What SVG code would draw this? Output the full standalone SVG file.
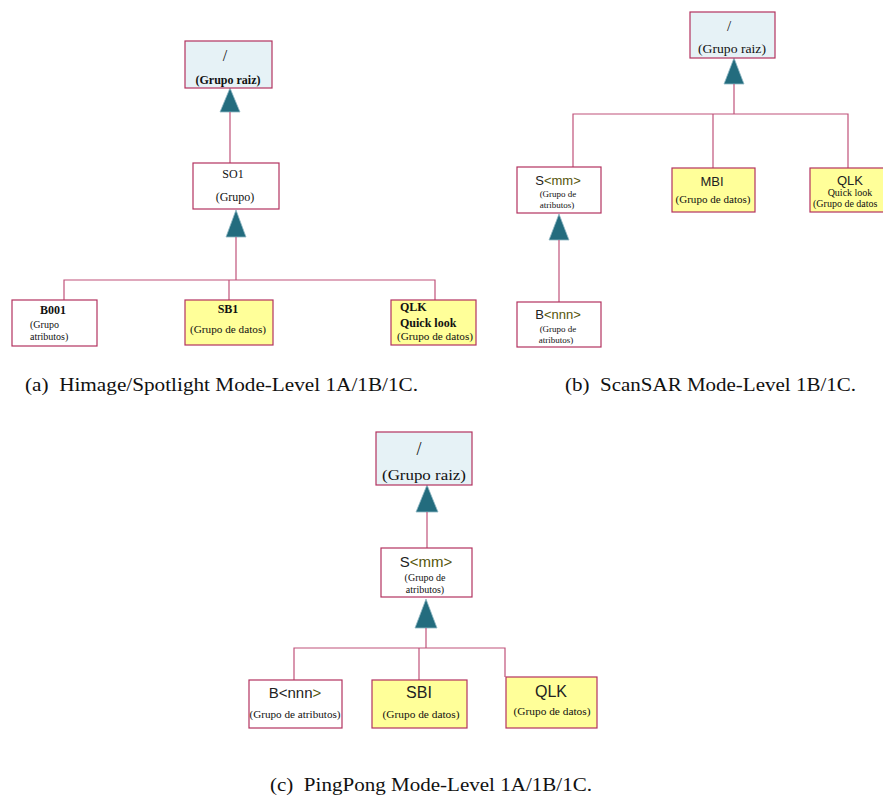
<svg xmlns="http://www.w3.org/2000/svg" width="883" height="796" viewBox="0 0 883 796">
<style>
.bg{fill:#ffffff}
.root{fill:#e6f2f6;stroke:#b3325f;stroke-width:1.2}
.grp{fill:#ffffff;stroke:#b3325f;stroke-width:1.2}
.dat{fill:#ffff99;stroke:#b3325f;stroke-width:1.2}
.ln{fill:none;stroke:#c0527a;stroke-width:1.2}
.tri{fill:#236c7e;stroke:#8fb8c4;stroke-width:0.8}
.s{font-family:"Liberation Serif","Times New Roman",serif;fill:#111}
.ss{font-family:"Liberation Sans",Arial,sans-serif;fill:#222}
.b{font-weight:bold}
.ol{fill:#55550a}
.cap{font-family:"Liberation Serif","Times New Roman",serif;font-size:18px;fill:#111}
</style>
<rect class="bg" x="0" y="0" width="883" height="796"/>

<g id="connectors">
  <!-- (a) -->
  <polygon class="tri" points="230,88 220,112 240,112"/>
  <line class="ln" x1="230" y1="112" x2="230" y2="163"/>
  <polygon class="tri" points="236,210 226,237 246,237"/>
  <polyline class="ln" points="236,237 236,280"/>
  <polyline class="ln" points="64,300 64,280 435,280 435,300"/>
  <line class="ln" x1="229" y1="280" x2="229" y2="300"/>
  <!-- (b) -->
  <polygon class="tri" points="734,58 724,84 744,84"/>
  <line class="ln" x1="734" y1="84" x2="734" y2="114"/>
  <polyline class="ln" points="573,167 573,114 848,114 848,168"/>
  <line class="ln" x1="713" y1="114" x2="713" y2="168"/>
  <polygon class="tri" points="559,214 549,240 569,240"/>
  <line class="ln" x1="559" y1="240" x2="559" y2="302"/>
  <!-- (c) -->
  <polygon class="tri" points="427,485 416,512 438,512"/>
  <line class="ln" x1="427" y1="512" x2="427" y2="548"/>
  <polygon class="tri" points="426,599 415,628 437,628"/>
  <line class="ln" x1="426" y1="628" x2="426" y2="648"/>
  <polyline class="ln" points="294,680 294,648 505,648 505,677"/>
  <line class="ln" x1="419" y1="648" x2="419" y2="680"/>
</g>

<!-- (a) nodes -->
<g id="a_root">
  <rect class="root" x="185" y="41" width="87" height="47"/>
  <text class="s" x="225" y="61" font-size="16" text-anchor="middle">/</text>
  <text class="s b" x="228" y="84" font-size="12" text-anchor="middle">(Grupo raiz)</text>
</g>
<g id="a_so1">
  <rect class="grp" x="193" y="163" width="86" height="46"/>
  <text class="s" x="233" y="178" font-size="12" text-anchor="middle">SO1</text>
  <text class="s" x="235" y="201" font-size="12" text-anchor="middle">(Grupo)</text>
</g>
<g id="a_b001">
  <rect class="grp" x="12" y="300" width="85" height="46"/>
  <text class="s b" x="53" y="314" font-size="12" text-anchor="middle">B001</text>
  <text class="s" x="30" y="328" font-size="10">(Grupo</text>
  <text class="s" x="30" y="340" font-size="10">atributos)</text>
</g>
<g id="a_sb1">
  <rect class="dat" x="185" y="300" width="88" height="45"/>
  <text class="s b" x="228" y="313" font-size="12" text-anchor="middle">SB1</text>
  <text class="s" x="228" y="333" font-size="11" text-anchor="middle" textLength="76" lengthAdjust="spacingAndGlyphs">(Grupo de datos)</text>
</g>
<g id="a_qlk">
  <rect class="dat" x="391" y="300" width="85" height="45"/>
  <text class="s b" x="400" y="311" font-size="12">QLK</text>
  <text class="s b" x="400" y="327" font-size="12">Quick look</text>
  <text class="s" x="397" y="340" font-size="11" textLength="76" lengthAdjust="spacingAndGlyphs">(Grupo de datos)</text>
</g>
<text class="cap" x="25" y="391" textLength="393" lengthAdjust="spacingAndGlyphs" xml:space="preserve">(a)  Himage/Spotlight Mode-Level 1A/1B/1C.</text>

<!-- (b) nodes -->
<g id="b_root">
  <rect class="root" x="690" y="12" width="85" height="46"/>
  <text class="s" x="729" y="31" font-size="15" text-anchor="middle">/</text>
  <text class="s" x="732" y="53" font-size="12" text-anchor="middle" textLength="68" lengthAdjust="spacingAndGlyphs">(Grupo raiz)</text>
</g>
<g id="b_smm">
  <rect class="grp" x="517" y="167" width="84" height="46"/>
  <text class="ss" x="558" y="185" font-size="13" text-anchor="middle">S<tspan class="ol">&lt;mm&gt;</tspan></text>
  <text class="s" x="558" y="197" font-size="9" text-anchor="middle">(Grupo de</text>
  <text class="s" x="557" y="208" font-size="9" text-anchor="middle">atributos)</text>
</g>
<g id="b_mbi">
  <rect class="dat" x="672" y="168" width="83" height="44"/>
  <text class="ss" x="712" y="186" font-size="13" text-anchor="middle">MBI</text>
  <text class="s" x="713" y="203" font-size="11" text-anchor="middle" textLength="75" lengthAdjust="spacingAndGlyphs">(Grupo de datos)</text>
</g>
<g id="b_qlk">
  <rect class="dat" x="810" y="168" width="80" height="44"/>
  <text class="ss" x="850" y="185" font-size="13" text-anchor="middle">QLK</text>
  <text class="s" x="850" y="196" font-size="10" text-anchor="middle">Quick look</text>
  <text class="s" x="813" y="207" font-size="10">(Grupo de datos</text>
</g>
<g id="b_bnnn">
  <rect class="grp" x="517" y="302" width="84" height="45"/>
  <text class="ss" x="558" y="319" font-size="13" text-anchor="middle">B<tspan class="ol">&lt;nnn&gt;</tspan></text>
  <text class="s" x="558" y="332" font-size="9" text-anchor="middle">(Grupo de</text>
  <text class="s" x="556" y="343" font-size="9" text-anchor="middle">atributos)</text>
</g>
<text class="cap" x="565" y="391" textLength="291" lengthAdjust="spacingAndGlyphs" xml:space="preserve">(b)  ScanSAR Mode-Level 1B/1C.</text>

<!-- (c) nodes -->
<g id="c_root">
  <rect class="root" x="376" y="432" width="96" height="53"/>
  <text class="s" x="419" y="455" font-size="18" text-anchor="middle">/</text>
  <text class="s" x="424" y="480" font-size="15" text-anchor="middle" textLength="84" lengthAdjust="spacingAndGlyphs">(Grupo raiz)</text>
</g>
<g id="c_smm">
  <rect class="grp" x="381" y="548" width="91" height="49"/>
  <text class="ss" x="426" y="567" font-size="15" text-anchor="middle">S<tspan class="ol">&lt;mm&gt;</tspan></text>
  <text class="s" x="425" y="581" font-size="10" text-anchor="middle">(Grupo de</text>
  <text class="s" x="425" y="593" font-size="10" text-anchor="middle">atributos)</text>
</g>
<g id="c_bnnn">
  <rect class="grp" x="249" y="680" width="93" height="48"/>
  <text class="ss" x="295" y="698" font-size="15" text-anchor="middle">B&lt;nnn<tspan class="ol">&gt;</tspan></text>
  <text class="s" x="295" y="718" font-size="11" text-anchor="middle" textLength="91" lengthAdjust="spacingAndGlyphs">(Grupo de atributos)</text>
</g>
<g id="c_sbi">
  <rect class="dat" x="372" y="680" width="95" height="48"/>
  <text class="ss" x="419" y="698" font-size="16" text-anchor="middle">SBI</text>
  <text class="s" x="421" y="718" font-size="11" text-anchor="middle" textLength="77" lengthAdjust="spacingAndGlyphs">(Grupo de datos)</text>
</g>
<g id="c_qlk">
  <rect class="dat" x="506" y="677" width="91" height="51"/>
  <text class="ss" x="551" y="697" font-size="16" text-anchor="middle">QLK</text>
  <text class="s" x="552" y="715" font-size="11" text-anchor="middle" textLength="77" lengthAdjust="spacingAndGlyphs">(Grupo de datos)</text>
</g>
<text class="cap" x="270" y="791" textLength="322" lengthAdjust="spacingAndGlyphs" xml:space="preserve">(c)  PingPong Mode-Level 1A/1B/1C.</text>
</svg>
